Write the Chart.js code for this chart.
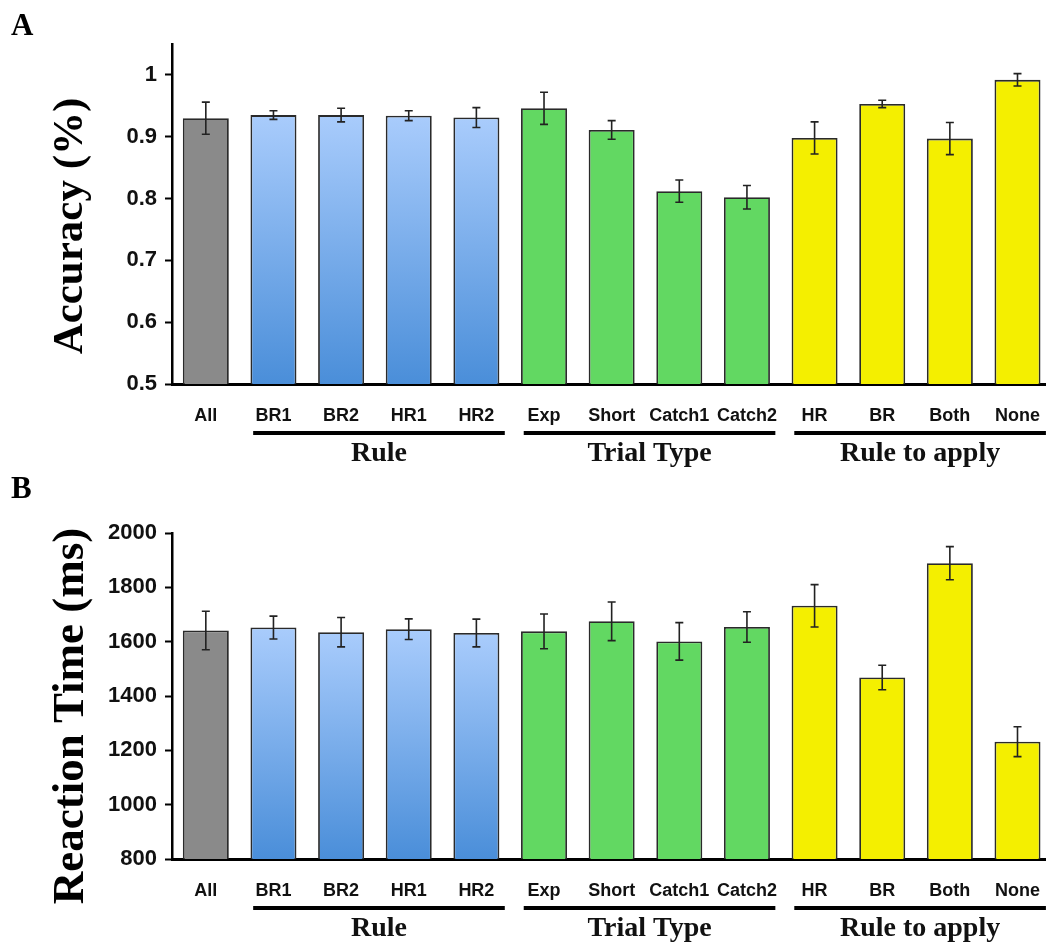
<!DOCTYPE html>
<html>
<head>
<meta charset="utf-8">
<script src="https://cdn.jsdelivr.net/npm/chart.js@4.4.1/dist/chart.umd.min.js"></script>
<style>
  html, body { margin: 0; padding: 0; background: #fff; overflow: hidden; }
  #wrap { position: relative; width: 1046px; height: 944px; overflow: hidden; }
  .box { position: absolute; left: 0; width: 1061px; }
  #boxA { top: 0; height: 470px; }
  #boxB { top: 470px; height: 474px; }
</style>
</head>
<body>
<div id="wrap">
  <div class="box" id="boxA"><canvas id="chartA"></canvas></div>
  <div class="box" id="boxB"><canvas id="chartB"></canvas></div>
</div>
<script>
// ---------- DATA ----------
const categories = ['All', 'BR1', 'BR2', 'HR1', 'HR2', 'Exp', 'Short', 'Catch1', 'Catch2', 'HR', 'BR', 'Both', 'None'];
const barGroup   = ['all', 'rule', 'rule', 'rule', 'rule', 'trial', 'trial', 'trial', 'trial', 'apply', 'apply', 'apply', 'apply'];

const accuracy    = [0.930, 0.935, 0.935, 0.934, 0.931, 0.946, 0.911, 0.812, 0.802, 0.898, 0.953, 0.897, 0.992];
const accuracyErr = [0.026, 0.007, 0.011, 0.008, 0.016, 0.026, 0.015, 0.018, 0.019, 0.026, 0.006, 0.026, 0.010];

const reactionTime    = [1641, 1652, 1635, 1646, 1632, 1638, 1675, 1601, 1654, 1732, 1468, 1889, 1232];
const reactionTimeErr = [71, 42, 54, 38, 51, 64, 71, 69, 56, 78, 45, 61, 55];

const groups = [
  { label: 'Rule',          first: 1, last: 4 },
  { label: 'Trial Type',    first: 5, last: 8 },
  { label: 'Rule to apply', first: 9, last: 12 }
];

const accTicks = [0.5, 0.6, 0.7, 0.8, 0.9, 1];
const rtTicks  = [800, 1000, 1200, 1400, 1600, 1800, 2000];

// ---------- STYLE ----------
const SANS = '"Liberation Sans", Arial, sans-serif';
const SERIF = '"Liberation Serif", "Times New Roman", serif';

function barColor(ctx) {
  const g = barGroup[ctx.dataIndex];
  if (g === 'all') return '#8a8a8a';
  if (g === 'trial') return '#62d862';
  if (g === 'apply') return '#f4ef00';
  const chart = ctx.chart;
  const area = chart.chartArea;
  const ys = chart.scales.y;
  if (!area || !ys) return '#7fb2f0';
  const top = ys.getPixelForValue(ctx.raw);
  const grad = chart.ctx.createLinearGradient(0, top, 0, area.bottom);
  grad.addColorStop(0, '#a9ccfc');
  grad.addColorStop(1, '#4a8ed9');
  return grad;
}

const decorPlugin = {
  id: 'decor',
  afterDatasetsDraw(chart, args, opts) {
    const c = chart.ctx;
    const ys = chart.scales.y;
    const meta = chart.getDatasetMeta(0);
    const vals = opts.values, errs = opts.errors;
    // error bars
    c.save();
    c.strokeStyle = '#222';
    c.lineWidth = 1.6;
    meta.data.forEach((bar, i) => {
      const x = bar.x;
      const y1 = ys.getPixelForValue(vals[i] + errs[i]);
      const y2 = ys.getPixelForValue(vals[i] - errs[i]);
      c.beginPath();
      c.moveTo(x, y1); c.lineTo(x, y2);
      c.moveTo(x - 4, y1); c.lineTo(x + 4, y1);
      c.moveTo(x - 4, y2); c.lineTo(x + 4, y2);
      c.stroke();
    });
    c.restore();
  },
  afterDraw(chart, args, opts) {
    const c = chart.ctx;
    const xs = chart.scales.x;
    const area = chart.chartArea;
    const w = xs.getPixelForValue(1) - xs.getPixelForValue(0);
    c.save();
    // group lines and labels
    groups.forEach(g => {
      const x0 = xs.getPixelForValue(g.first) - 0.3 * w;
      const x1 = xs.getPixelForValue(g.last) + 0.42 * w;
      c.fillStyle = '#000';
      c.fillRect(x0, area.bottom + opts.lineOffset - 2, x1 - x0, 4);
      c.font = 'bold 28px ' + SERIF;
      c.textAlign = 'center';
      c.textBaseline = 'middle';
      c.fillStyle = '#111';
      c.fillText(g.label, (x0 + x1) / 2, area.bottom + opts.labelOffset);
    });
    // panel letter
    c.font = 'bold 31px ' + SERIF;
    c.textAlign = 'left';
    c.textBaseline = 'alphabetic';
    c.fillStyle = '#000';
    c.fillText(opts.letter, 11, opts.letterY);
    // y title
    c.translate(71, opts.titleY);
    c.rotate(-Math.PI / 2);
    c.font = 'bold ' + opts.titleSize + 'px ' + SERIF;
    c.textAlign = 'center';
    c.textBaseline = 'middle';
    c.fillStyle = '#000';
    c.fillText(opts.title, 0, 0);
    c.restore();
  }
};

function makeChart(id, values, errors, yMin, yMax, step, tickList, fmt, cfg) {
  return new Chart(document.getElementById(id), {
    type: 'bar',
    data: {
      labels: categories,
      datasets: [{
        data: values,
        backgroundColor: barColor,
        borderColor: '#2a2a2a',
        borderWidth: 1.8,
        borderSkipped: 'bottom',
        barPercentage: 0.68,
        categoryPercentage: 1.0
      }]
    },
    options: {
      responsive: true,
      maintainAspectRatio: false,
      animation: false,
      devicePixelRatio: 1,
      layout: { padding: { top: cfg.padTop, left: 0, right: 0, bottom: 0 } },
      plugins: {
        legend: { display: false },
        tooltip: { enabled: false },
        decor: {
          values: values, errors: errors,
          lineOffset: cfg.lineOffset, labelOffset: cfg.labelOffset,
          letter: cfg.letter, letterY: cfg.letterY,
          title: cfg.title, titleY: cfg.titleY, titleSize: cfg.titleSize
        }
      },
      scales: {
        x: {
          grid: { display: false, drawTicks: false },
          border: { display: true, color: '#000', width: 3 },
          ticks: {
            color: '#111',
            font: { family: SANS, size: 18, weight: 'bold' },
            padding: cfg.xPad,
            maxRotation: 0, autoSkip: false
          },
          afterFit(scale) { scale.height = cfg.xHeight; }
        },
        y: {
          min: yMin, max: yMax,
          grid: { display: true, drawOnChartArea: false, drawTicks: true, tickLength: 7, tickColor: '#000', tickWidth: 2 },
          border: { display: true, color: '#000', width: 2.5 },
          ticks: {
            stepSize: step,
            includeBounds: false,
            color: '#111',
            padding: 8,
            font: { family: SANS, size: 22, weight: 'bold' },
            callback: fmt
          },
          afterBuildTicks(scale) { scale.ticks = tickList.map(v => ({ value: v })); },
          afterFit(scale) { scale.width = 172; }
        }
      }
    },
    plugins: [decorPlugin]
  });
}

makeChart('chartA', accuracy, accuracyErr, 0.5, 1.05, 0.1, accTicks,
  v => (Math.abs(v - 1) < 1e-9 ? '1' : v.toFixed(1)),
  { padTop: 44, xHeight: 86, xPad: 21, lineOffset: 49, labelOffset: 70,
    letter: 'A', letterY: 35, title: 'Accuracy (%)', titleY: 226, titleSize: 43 });

makeChart('chartB', reactionTime, reactionTimeErr, 800, 2000, 200, rtTicks,
  v => String(v),
  { padTop: 63, xHeight: 85, xPad: 21, lineOffset: 49, labelOffset: 70,
    letter: 'B', letterY: 28, title: 'Reaction Time (ms)', titleY: 246, titleSize: 45 });
</script>
</body>
</html>
